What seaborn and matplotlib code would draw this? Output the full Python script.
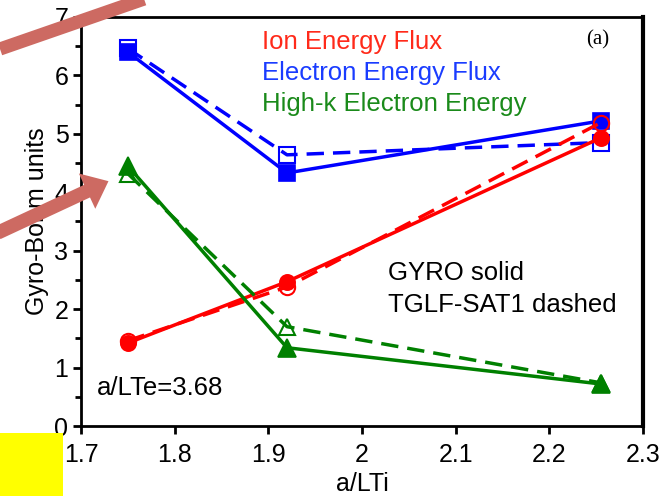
import numpy as np
import pandas as pd
import matplotlib
matplotlib.use('Agg')
import matplotlib.pyplot as plt
from matplotlib.patches import FancyArrowPatch, Rectangle
from matplotlib.ticker import MultipleLocator, FormatStrFormatter
import seaborn as sns

# a/LTi scan points
a_lti = [1.75, 1.92, 2.255]

# GYRO (solid) and TGLF-SAT1 (dashed) fluxes in gyro-Bohm units
ion_gyro = [1.42, 2.47, 4.93]
ion_tglf = [1.46, 2.38, 5.19]
elec_gyro = [6.40, 4.33, 5.22]
elec_tglf = [6.46, 4.64, 4.85]
hik_gyro = [4.45, 1.34, 0.72]
hik_tglf = [4.32, 1.70, 0.74]

sns.set_style('ticks')
plt.rcParams['font.family'] = ['Liberation Sans', 'DejaVu Sans']
plt.rcParams['text.color'] = 'black'
plt.rcParams['axes.labelcolor'] = 'black'

fig = plt.figure(figsize=(6.69, 4.96), dpi=100)
ax = fig.add_axes([0.121, 0.141, 0.840, 0.825])

RED, BLUE, GREEN = '#ff0000', '#0000ff', '#008000'
lw = 2.5
dash = (5, 2.6)

# Electron energy flux
sns.lineplot(x=a_lti, y=elec_gyro, ax=ax, color=BLUE, lw=lw, marker='s', markersize=11,
             mec=BLUE, mfc=BLUE, mew=1.2)
sns.lineplot(x=a_lti, y=elec_tglf, ax=ax, color=BLUE, lw=lw, marker='s', markersize=11,
             mec=BLUE, mfc='none', mew=1.5, linestyle=(0, dash))

# Ion energy flux
sns.lineplot(x=a_lti, y=ion_gyro, ax=ax, color=RED, lw=lw, marker='o', markersize=11,
             mec=RED, mfc=RED, mew=1.2)
sns.lineplot(x=a_lti, y=ion_tglf, ax=ax, color=RED, lw=lw, marker='o', markersize=11,
             mec=RED, mfc='none', mew=1.5, linestyle=(0, dash))

# High-k electron energy flux
sns.lineplot(x=a_lti, y=hik_gyro, ax=ax, color=GREEN, lw=lw, marker='^', markersize=13,
             mec=GREEN, mfc=GREEN, mew=1.2)
sns.lineplot(x=a_lti, y=hik_tglf, ax=ax, color=GREEN, lw=lw, marker='^', markersize=12,
             mec=GREEN, mfc='none', mew=1.5, linestyle=(0, dash))

ax.set_xlim(1.7, 2.3)
ax.set_ylim(0, 7)
ax.xaxis.set_major_locator(MultipleLocator(0.1))
ax.xaxis.set_major_formatter(FormatStrFormatter('%g'))
ax.yaxis.set_major_locator(MultipleLocator(1))
ax.yaxis.set_minor_locator(MultipleLocator(0.5))
ax.tick_params(which='major', direction='out', length=6, width=2, labelsize=18, color='black',
               labelcolor='black', pad=3)
ax.tick_params(axis='x', which='major', pad=6)
ax.tick_params(which='minor', direction='out', length=4, width=2, color='black')
ax.tick_params(axis='x', which='minor', length=0)

for side in ['left', 'bottom', 'top']:
    ax.spines[side].set_linewidth(2)
    ax.spines[side].set_color('black')
ax.spines['right'].set_linewidth(3)
ax.spines['right'].set_color('black')

ax.set_xlabel('a/LTi', fontsize=18, labelpad=4)
ax.set_ylabel('Gyro-Bohm units', fontsize=18, labelpad=4)

ax.text(0.322, 0.939, 'Ion Energy Flux', color='#ff2a1a', fontsize=18.5, transform=ax.transAxes, va='center')
ax.text(0.322, 0.863, 'Electron Energy Flux', color='#1a3cff', fontsize=18.5, transform=ax.transAxes, va='center')
ax.text(0.322, 0.787, 'High-k Electron Energy', color='#1a8a1a', fontsize=18.5, transform=ax.transAxes, va='center')
ax.text(0.899, 0.944, '(a)', fontsize=15, family='Liberation Serif', transform=ax.transAxes, va='center')
ax.text(0.546, 0.374, 'GYRO solid', fontsize=18.5, transform=ax.transAxes, va='center')
ax.text(0.546, 0.296, 'TGLF-SAT1 dashed', fontsize=18.5, transform=ax.transAxes, va='center')
ax.text(0.028, 0.093, 'a/LTe=3.68', fontsize=18.5, transform=ax.transAxes, va='center')

# overlay annotations (figure pixel coordinates, origin top-left)
H = 496
def fp(x, y):
    return (x / 669, (H - y) / H)

arrow_col = '#cd6a62'
fig.add_artist(plt.Line2D([fp(0, 49)[0], fp(170, -10)[0]], [fp(0, 49)[1], fp(170, -10)[1]],
                          transform=fig.transFigure, color=arrow_col, lw=9.5, solid_capstyle='butt'))
fig.add_artist(FancyArrowPatch(fp(-5, 234), fp(111, 180), transform=fig.transFigure,
                               arrowstyle='simple,head_width=2.8,head_length=1.7,tail_width=1.0',
                               mutation_scale=10, color=arrow_col, lw=0))
fig.add_artist(Rectangle(fp(0, 496), 63 / 669, 63 / H, transform=fig.transFigure,
                         facecolor='#ffff00', edgecolor='none'))

fig.savefig('out.png', dpi=100)
